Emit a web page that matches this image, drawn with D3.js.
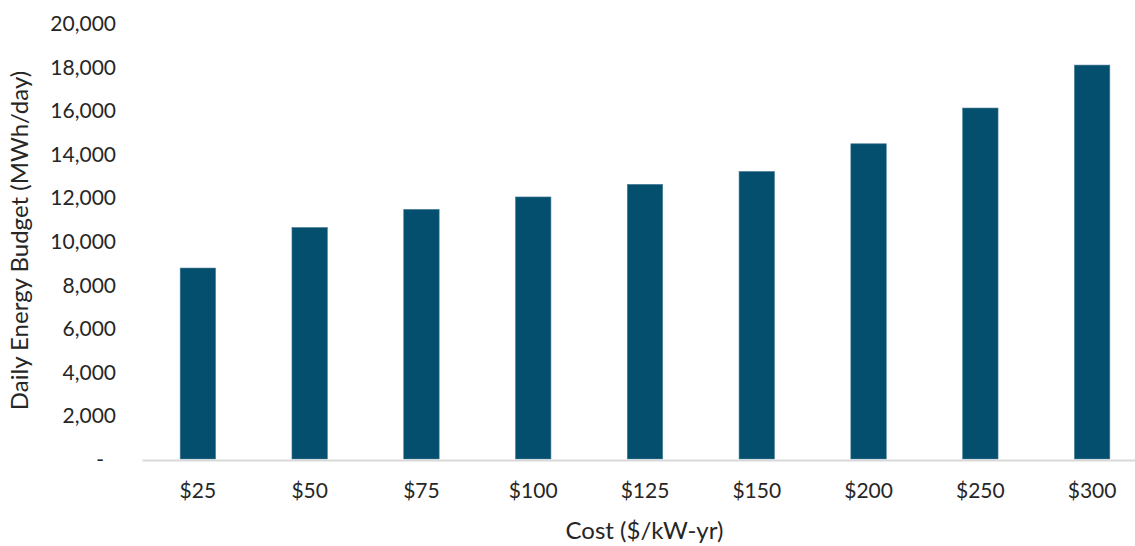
<!DOCTYPE html>
<html>
<head>
<meta charset="utf-8">
<script src="https://cdn.jsdelivr.net/npm/d3@7"></script>
<style>
  html, body { margin: 0; padding: 0; background: #fff; }
  svg { display: block; }
  text { font-family: Lato, "Open Sans", sans-serif; fill: #262626; }
</style>
</head>
<body>
<svg id="chart" width="1135" height="546"></svg>
<script>
// Daily energy budget by capacity cost
const categories = ["$25", "$50", "$75", "$100", "$125", "$150", "$200", "$250", "$300"];
const budgetValues = [8760, 10620, 11450, 12020, 12600, 13190, 14460, 16100, 18070];
const yTicks = [0, 2000, 4000, 6000, 8000, 10000, 12000, 14000, 16000, 18000, 20000];
const xTitle = "Cost ($/kW-yr)";
const yTitle = "Daily Energy Budget (MWh/day)";

const svg = d3.select("#chart");
const plot = { left: 142, right: 1148, top: 23, bottom: 459 };

const x = d3.scaleBand()
  .domain(categories)
  .range([plot.left, plot.right])
  .paddingInner(0.683)
  .paddingOuter(0.3415);

const y = d3.scaleLinear()
  .domain([0, 20000])
  .range([plot.bottom, plot.top]);

// Bars
svg.append("g")
  .selectAll("rect")
  .data(categories.map((c, i) => ({ c, v: budgetValues[i] })))
  .join("rect")
  .attr("x", d => x(d.c))
  .attr("y", d => y(d.v))
  .attr("width", x.bandwidth())
  .attr("height", d => y(0) - y(d.v))
  .attr("fill", "#054f6e")
  .attr("stroke", "#4a7f99")
  .attr("stroke-width", 0.6);

// Y axis (labels only, accounting style dash at zero)
const fmt = d3.format(",");
const yAxis = svg.append("g")
  .attr("transform", `translate(116,0)`)
  .call(d3.axisLeft(y).tickValues(yTicks).tickSize(0).tickPadding(0)
    .tickFormat(d => d === 0 ? "-" : fmt(d)));
yAxis.select(".domain").remove();
yAxis.selectAll("text")
  .style("font-size", "21px")
  .attr("fill", "#262626")
  .attr("dy", "0.36em")
  .attr("dx", d => d === 0 ? -12 : 0);

// X axis
const xAxis = svg.append("g")
  .attr("transform", `translate(0,${plot.bottom})`)
  .call(d3.axisBottom(x).tickSize(0).tickPadding(24));
xAxis.select(".domain")
  .attr("stroke", "#d9d9d9")
  .attr("stroke-width", 2)
  .attr("transform", "translate(0,1)");
xAxis.selectAll("text")
  .style("font-size", "21px")
  .attr("fill", "#262626");

// Axis titles
svg.append("text")
  .attr("x", 644.5)
  .attr("y", 539)
  .attr("text-anchor", "middle")
  .style("font-size", "24px")
  .text(xTitle);

svg.append("text")
  .attr("transform", "translate(28,240.5) rotate(-90)")
  .attr("text-anchor", "middle")
  .style("font-size", "24px")
  .text(yTitle);
</script>
</body>
</html>
